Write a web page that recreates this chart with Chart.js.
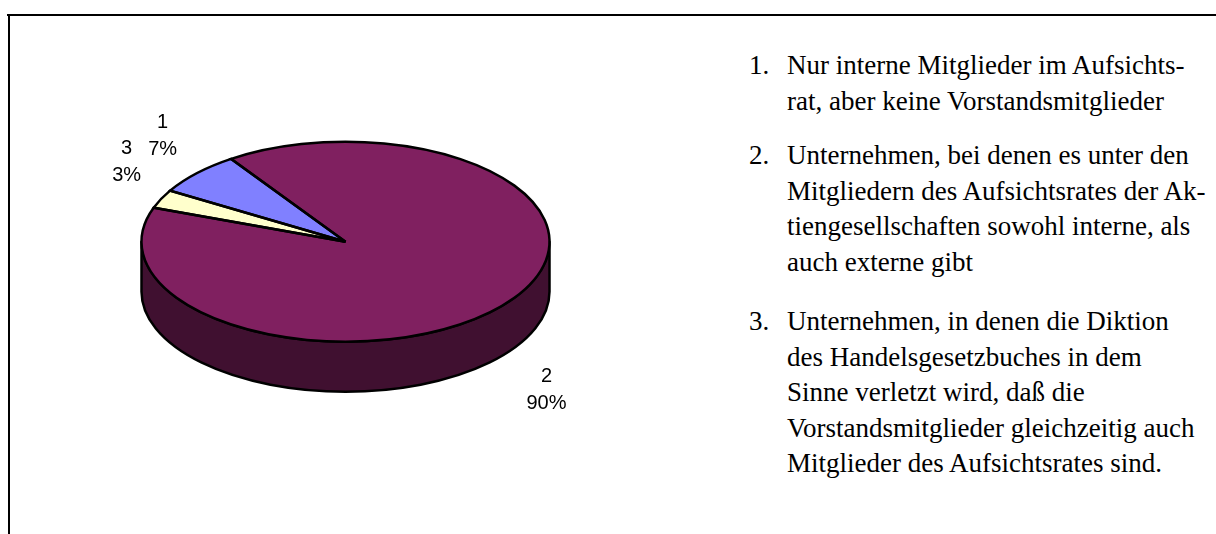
<!DOCTYPE html>
<html>
<head>
<meta charset="utf-8">
<script src="https://cdn.jsdelivr.net/npm/chart.js@4.4.1/dist/chart.umd.min.js"></script>
<style>
html,body{margin:0;padding:0;background:#fff;width:1216px;height:534px;overflow:hidden;position:relative;}
#pieWrap{position:absolute;left:0;top:0;width:700px;height:534px;}
#frameTop{position:absolute;left:7px;top:14px;width:1209px;height:2px;background:#000;}
#frameLeft{position:absolute;left:8px;top:14px;width:2px;height:520px;background:#000;}
.item{position:absolute;left:749px;font-family:'Liberation Serif','Times New Roman',serif;font-size:27px;line-height:35.5px;color:#000;white-space:nowrap;}
.item .num{position:absolute;left:0;top:0;}
.item .txt{position:absolute;left:38px;top:0;}
</style>
</head>
<body>
<div id="pieWrap"><canvas id="c" width="700" height="534"></canvas></div>
<div id="frameTop"></div>
<div id="frameLeft"></div>
<div id="legend"></div>
<script>
// ---- data ----
const categories = ['1', '2', '3'];
const shares = [7, 90, 3];
const legendNumbers = ['1.', '2.', '3.'];
const legendLines = [
  ['Nur interne Mitglieder im Aufsichts-', 'rat, aber keine Vorstandsmitglieder'],
  ['Unternehmen, bei denen es unter den', 'Mitgliedern des Aufsichtsrates der Ak-', 'tiengesellschaften sowohl interne, als', 'auch externe gibt'],
  ['Unternehmen, in denen die Diktion', 'des Handelsgesetzbuches in dem', 'Sinne verletzt wird, daß die', 'Vorstandsmitglieder gleichzeitig auch', 'Mitglieder des Aufsichtsrates sind.']
];

// ---- styles ----
const topColors = ['#8080FF', '#802060', '#FFFFCC'];
const sideColors = ['#404080', '#401030', '#808066'];
const TILT = 100 / 204;
const DEPTH = 50;
const LABEL_LINE_H = 27;
const LABEL_FONT = '20px "Liberation Sans", Arial, sans-serif';
const STROKE_W = 2.5;
const legendTops = [48, 138, 304];

// legend (text box)
const legendEl = document.getElementById('legend');
legendLines.forEach((lines, i) => {
  const d = document.createElement('div');
  d.className = 'item';
  d.style.top = legendTops[i] + 'px';
  const n = document.createElement('span');
  n.className = 'num';
  n.textContent = legendNumbers[i];
  const t = document.createElement('div');
  t.className = 'txt';
  lines.forEach((ln, j) => {
    if (j) t.appendChild(document.createElement('br'));
    t.appendChild(document.createTextNode(ln));
  });
  d.appendChild(n);
  d.appendChild(t);
  legendEl.appendChild(d);
});

const total = shares.reduce((a, b) => a + b, 0);

const pie3d = {
  id: 'pie3d',
  beforeDatasetsDraw(chart) {
    const ctx = chart.ctx;
    const arcs = chart.getDatasetMeta(0).data;
    const g = arcs[0].getProps(['x', 'y', 'outerRadius'], true);
    const cx = g.x, cy = g.y, r = g.outerRadius, ry = r * TILT;
    ctx.save();
    ctx.lineWidth = STROKE_W;
    ctx.strokeStyle = '#000';
    ctx.lineJoin = 'round';
    arcs.forEach((arc, i) => {
      const p = arc.getProps(['startAngle', 'endAngle'], true);
      for (let n = -2; n <= 3; n++) {
        const lo = Math.max(p.startAngle, 2 * Math.PI * n);
        const hi = Math.min(p.endAngle, 2 * Math.PI * n + Math.PI);
        if (hi - lo > 1e-6) {
          ctx.beginPath();
          ctx.ellipse(cx, cy, r, ry, 0, lo, hi, false);
          ctx.ellipse(cx, cy + DEPTH, r, ry, 0, hi, lo, true);
          ctx.closePath();
          ctx.fillStyle = sideColors[i];
          ctx.fill();
          ctx.stroke();
        }
      }
    });
    ctx.restore();
    ctx.save();
    ctx.translate(cx, cy);
    ctx.scale(1, TILT);
    ctx.translate(-cx, -cy);
  },
  afterDatasetsDraw(chart) {
    const ctx = chart.ctx;
    ctx.restore();
    const arcs = chart.getDatasetMeta(0).data;
    const g = arcs[0].getProps(['x', 'y', 'outerRadius'], true);
    const cx = g.x, cy = g.y, r = g.outerRadius, ry = r * TILT;
    ctx.save();
    ctx.lineWidth = STROKE_W;
    ctx.strokeStyle = '#000';
    ctx.lineJoin = 'miter';
    ctx.miterLimit = 3;
    arcs.forEach(arc => {
      const p = arc.getProps(['startAngle', 'endAngle'], true);
      ctx.beginPath();
      ctx.moveTo(cx, cy);
      ctx.ellipse(cx, cy, r, ry, 0, p.startAngle, p.endAngle, false);
      ctx.closePath();
      ctx.stroke();
    });
    // data labels
    ctx.font = LABEL_FONT;
    ctx.fillStyle = '#000';
    ctx.textAlign = 'center';
    ctx.textBaseline = 'middle';
    arcs.forEach((arc, i) => {
      const p = arc.getProps(['startAngle', 'endAngle'], true);
      const mid = (p.startAngle + p.endAngle) / 2;
      const c = Math.cos(mid), s = Math.sin(mid);
      const px = cx + r * c;
      const py = cy + ry * s + (s > 0 ? DEPTH : 0);
      const ax = px + Math.sign(c) * 20;
      const ay = py + Math.sign(s) * 10;
      const lines = [categories[i], Math.round(shares[i] / total * 100) + '%'];
      const w = Math.max(...lines.map(t => ctx.measureText(t).width));
      const h = lines.length * LABEL_LINE_H;
      const bx = c < 0 ? ax - w / 2 : ax + w / 2;
      const top = s < 0 ? ay - h : ay;
      lines.forEach((t, j) => ctx.fillText(t, bx, top + LABEL_LINE_H * (j + 0.5)));
    });
    ctx.restore();
  }
};

new Chart(document.getElementById('c'), {
  type: 'pie',
  data: {
    labels: categories,
    datasets: [{
      data: shares,
      backgroundColor: topColors,
      borderWidth: 0,
      clip: false
    }]
  },
  options: {
    responsive: false,
    devicePixelRatio: 1,
    animation: false,
    rotation: 300.7,
    layout: { padding: { left: 141.5, right: 150.5, top: 37.7, bottom: 88.3 } },
    plugins: { legend: { display: false }, tooltip: { enabled: false } },
    events: []
  },
  plugins: [pie3d]
});
</script>
</body>
</html>
